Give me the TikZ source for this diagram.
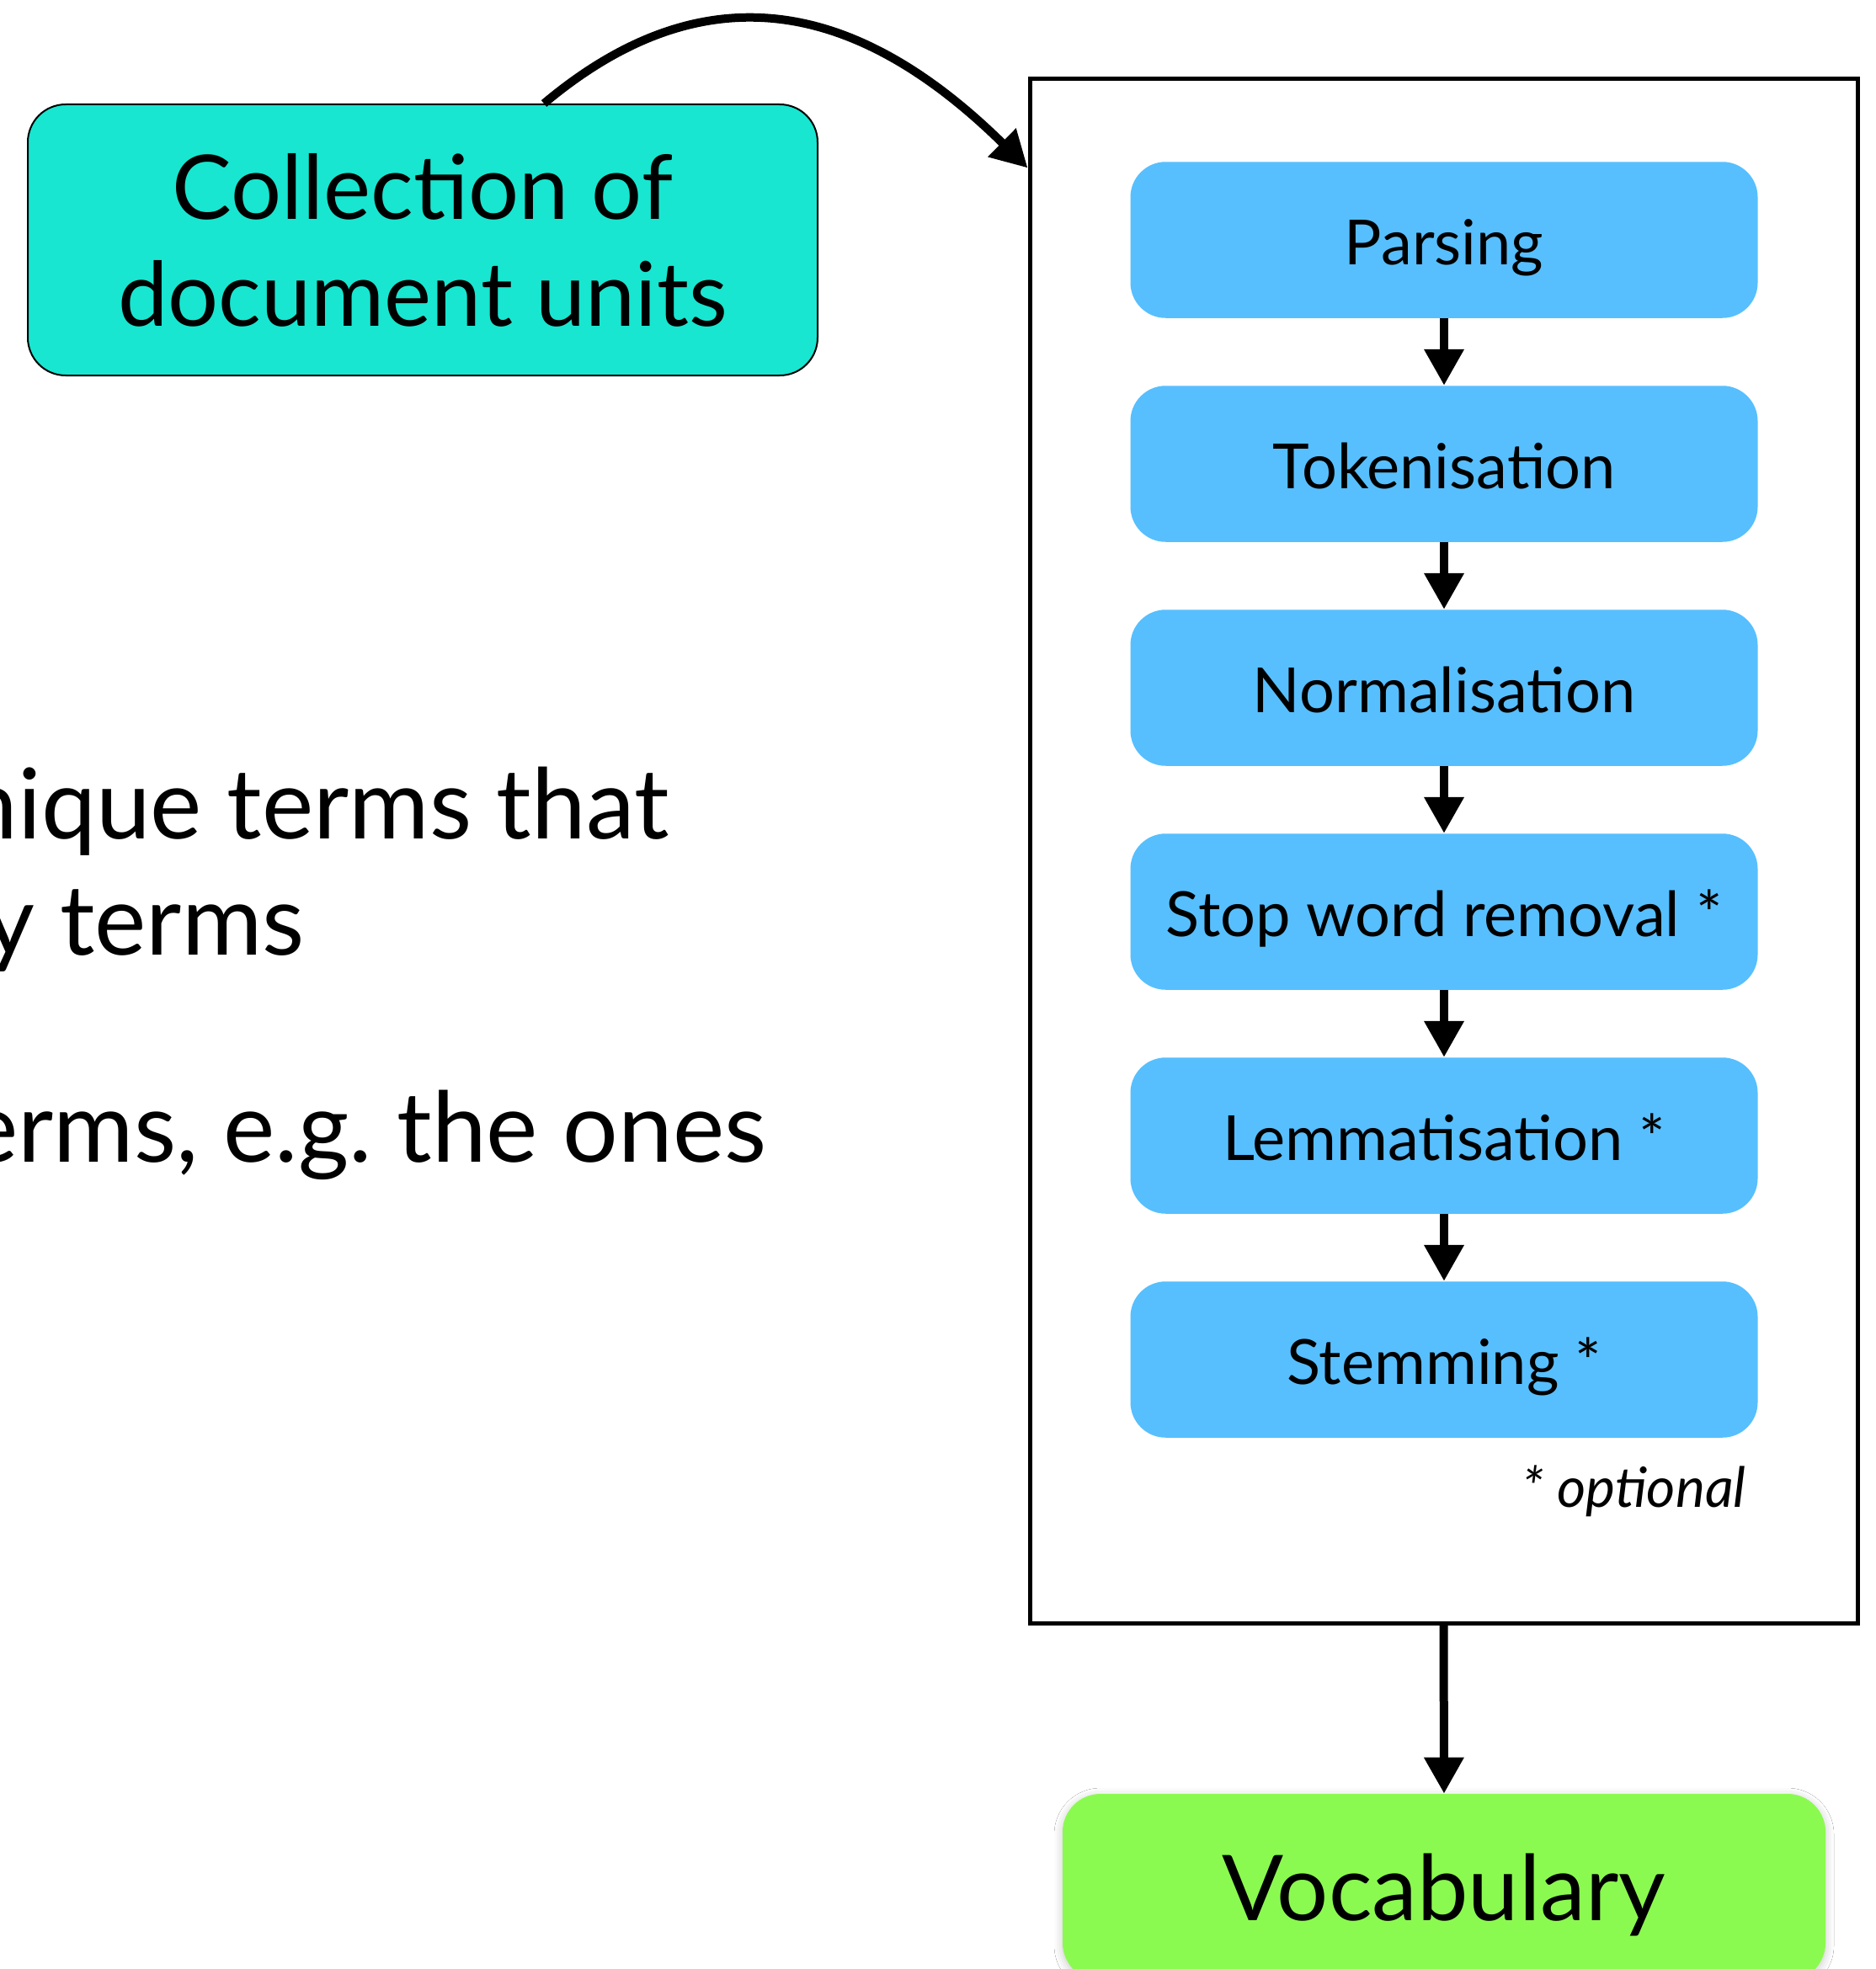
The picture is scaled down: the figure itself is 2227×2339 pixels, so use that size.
\documentclass[tikz,border=0pt]{standalone}
\usepackage{fontspec}
\setmainfont{Lato}
\usetikzlibrary{arrows.meta,shadows.blur}

\definecolor{collfill}{RGB}{24,230,208}
\definecolor{stagefill}{RGB}{87,191,254}
\definecolor{vocabfill}{RGB}{139,250,80}

\begin{document}
\begin{tikzpicture}[x=0.5pt,y=-0.5pt,
  stage/.style={fill=stagefill, rounded corners=21pt, minimum width=372.5pt,
    minimum height=92.75pt, inner sep=0pt, text height=29pt, text depth=0pt,
    font=\fontsize{37}{40}\selectfont},
  flow/.style={line width=5pt, -{Triangle[length=21.5pt,width=22.5pt]}},
  bigtext/.style={font=\fontsize{58}{68}\selectfont, anchor=base east, inner sep=0pt},
]
\useasboundingbox (0,0) rectangle (2227,2339);
\fill[white] (0,0) rectangle (2227,2339);

% body text running in from the left
\node[bigtext] (l1) at (795,996) {nique terms that};
\node[bigtext] (l2) at (362,1134) {y terms};
\node[bigtext] (l3) at (911,1380) {erms, e.g.\ the ones};

% input collection
\node[draw=black, line width=1pt, fill=collfill, rounded corners=22.5pt,
  minimum width=469pt, minimum height=161pt, align=center,
  font=\fontsize{53}{63.5}\selectfont] (coll) at (502,285) {Collection of\\document units};

% processing frame
\node[draw=black, line width=2.5pt, minimum width=491.5pt, minimum height=917pt,
  inner sep=0pt] (frame) at (1714.5,1011) {};

% pipeline stages
\node[stage] (s1) at (1715,285)  {Parsing};
\node[stage] (s2) at (1715,551)  {Tokenisation};
\node[stage] (s3) at (1715,817)  {Normalisation};
\node[stage] (s4) at (1715,1083) {Stop word removal *};
\node[stage] (s5) at (1715,1349) {Lemmatisation *};
\node[stage] (s6) at (1715,1615) {Stemming *};

\node[anchor=base east, inner sep=0pt, font=\fontsize{33}{40}\selectfont\itshape]
  (note) at (2074,1790) {* optional};

\foreach \a/\b in {s1/s2,s2/s3,s3/s4,s4/s5,s5/s6}
  \draw[flow] (\a.south) -- (\b.north);

% output
\node[fill=vocabfill, rounded corners=22.5pt, minimum width=453pt, minimum height=111pt,
  text height=39pt, text depth=0pt, inner sep=0pt,
  blur shadow={shadow xshift=0pt, shadow yshift=-1.5pt, shadow blur radius=5pt, shadow opacity=22},
  font=\fontsize{54}{60}\selectfont] (vocab) at (1715,2242) {Vocabulary};

\draw[flow] (frame.south) -- (vocab.north);

% collection feeds the frame
\coordinate (c1) at (834,-35);
\coordinate (c2) at (1015,-3);
\draw[flow] ([xshift=72pt]coll.north) .. controls (c1) and (c2) .. ([yshift=-54pt]frame.north west);
\end{tikzpicture}
\end{document}
